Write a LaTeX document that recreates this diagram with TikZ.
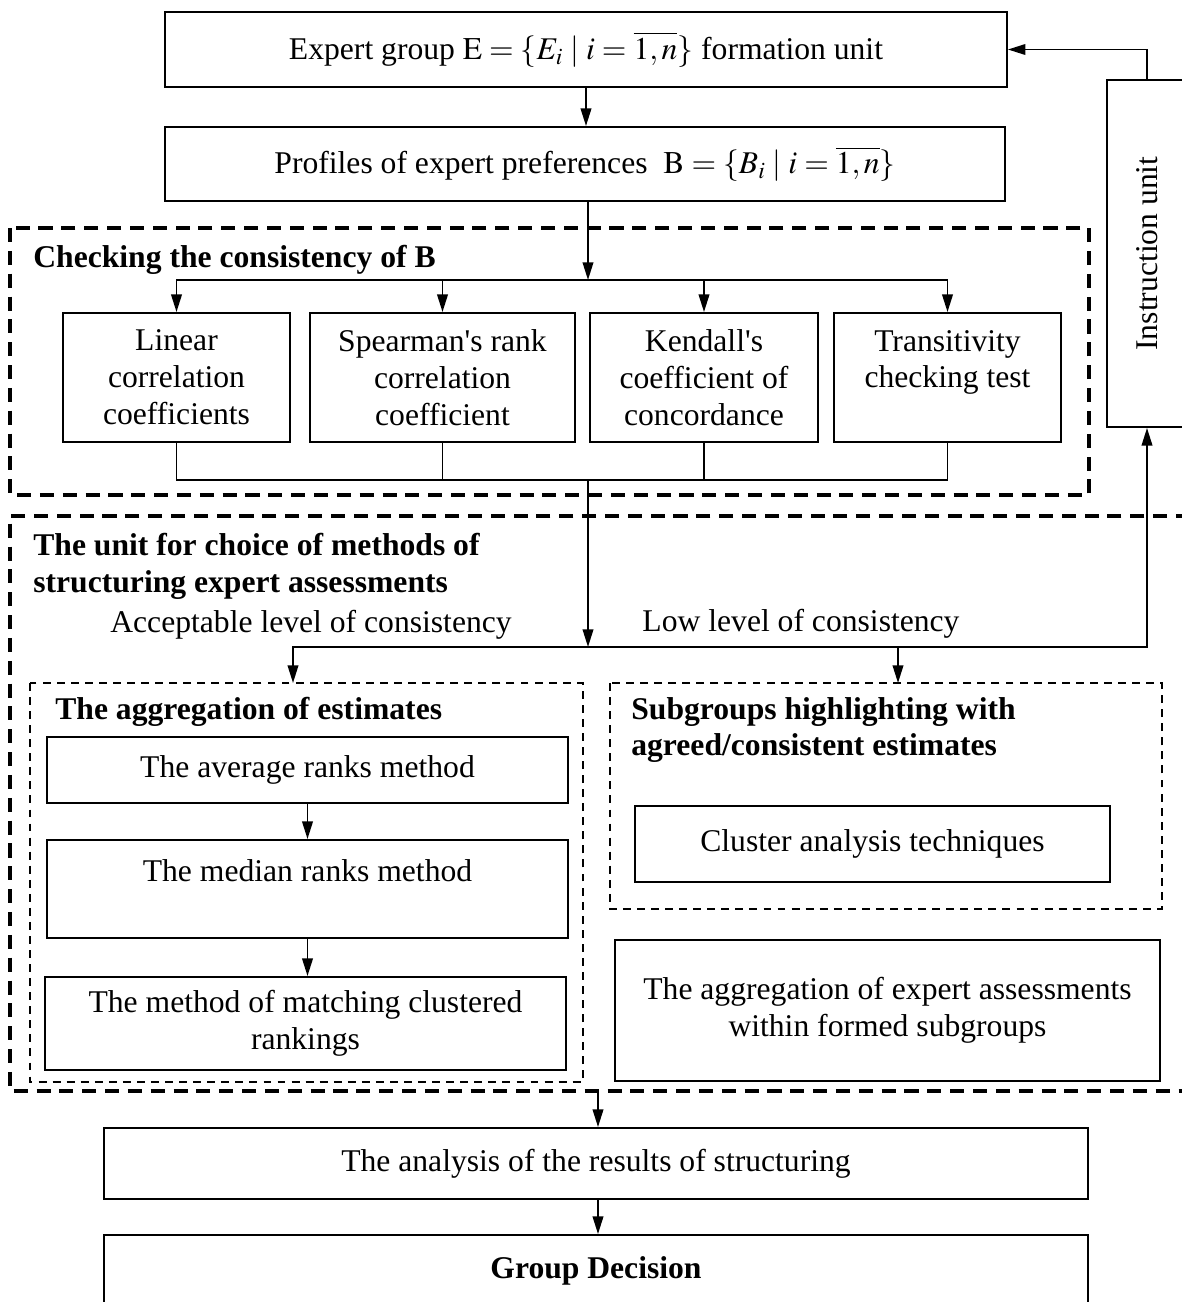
\documentclass[tikz,border=0pt]{standalone}
\usepackage{mathptmx}
\usepackage{fontspec}
\setmainfont{Liberation Serif}
\usepackage{tikz}
\usetikzlibrary{positioning,arrows.meta}

\begin{document}
\begin{tikzpicture}[x=0.02cm,y=-0.02cm]
  \tikzstyle{every node}=[font=\fontsize{18}{21}\selectfont, inner sep=0pt]
  \tikzstyle{box}=[draw, line width=1.1pt, align=center]
  \tikzstyle{bold}=[font=\fontsize{18}{21}\selectfont\bfseries]
  \tikzstyle{bigdash}=[line width=2.2pt, dash pattern=on 8pt off 5pt]
  \tikzstyle{smalldash}=[line width=1.1pt, dash pattern=on 4.5pt off 3.5pt]
  \tikzstyle{link}=[line width=1.1pt, ->, >={Triangle[length=10pt,width=6pt]}]
  \useasboundingbox (0,0) rectangle (1182,1302);
  \clip (0,0) rectangle (1182,1302);

  % dashed frames
  \draw [bigdash] (10,228) rectangle (1089,495);
  \draw [bigdash] (1190,516) -- (10,516) -- (10,1091) -- (1190,1091);
  \draw [smalldash] (30,683) rectangle (583,1082);
  \draw [smalldash] (610,683) rectangle (1162,909);

  % boxes
  \node [box, minimum width=16.84cm, minimum height=1.5cm] (expert) at (586,49.5)
    {Expert group $\mathrm{E}=\{E_i \mid i=\overline{1,n}\}$ formation unit};
  \node [box, minimum width=16.8cm, minimum height=1.48cm] (prof) at (585,164)
    {Profiles of expert preferences\ \ $\mathrm{B}=\{B_i \mid i=\overline{1,n}\}$};
  \node [box, minimum width=1.6cm, minimum height=6.94cm] (instr) at (1147,253.5)
    {\rotatebox{90}{Instruction unit}};

  \node [box, minimum width=4.54cm, minimum height=2.58cm] (lin) at (176.5,377.5)
    {Linear\\correlation\\coefficients};
  \node [box, minimum width=5.3cm, minimum height=2.58cm] (spear) at (442.5,377.5)
    {Spearman\textquotesingle s rank\\correlation\\coefficient};
  \node [box, minimum width=4.56cm, minimum height=2.58cm] (kend) at (704,377.5)
    {Kendall\textquotesingle s\\coefficient of\\concordance};
  \node [box, minimum width=4.54cm, minimum height=2.58cm] (trans) at (947.5,377.5)
    {Transitivity\\checking test\\ \mbox{}};

  \node [box, minimum width=10.42cm, minimum height=1.32cm] (avg) at (307.5,770)
    {The average ranks method};
  \node [box, minimum width=10.42cm, minimum height=1.96cm] (med) at (307.5,889)
    {The median ranks method\\ \mbox{}};
  \node [box, minimum width=10.42cm, minimum height=1.86cm] (match) at (305.5,1023.5)
    {The method of matching clustered\\rankings};
  \node [box, minimum width=9.5cm, minimum height=1.52cm] (clust) at (872.5,844)
    {Cluster analysis techniques};
  \node [box, minimum width=10.9cm, minimum height=2.82cm] (within) at (887.5,1010.5)
    {The aggregation of expert assessments\\within formed subgroups};
  \node [box, minimum width=19.68cm, minimum height=1.42cm] (anal) at (596,1163.5)
    {The analysis of the results of structuring};
  \node [box, minimum width=19.68cm, minimum height=1.44cm] (dec) at (596,1271)
    {\textbf{Group Decision}};

  % titles and labels
  \node [bold, anchor=west] (chktitle) at (33,260) {Checking the consistency of B};
  \node [bold, anchor=west, align=left] (unittitle) at (33,566.5)
    {The unit for choice of methods of\\structuring expert assessments};
  \node (acc) at (311,625) {Acceptable level of consistency};
  \node (low) at (801,624) {Low level of consistency};
  \node [bold, anchor=west] (aggtitle) at (55,712) {The aggregation of estimates};
  \node [bold, anchor=west, align=left] (subtitle) at (631,730)
    {Subgroups highlighting with\\agreed/consistent estimates};

  % connectors
  \coordinate (split) at (588,280);
  \coordinate (join) at (588,480);
  \coordinate (fork) at (588,647);
  \coordinate (aggtop) at (293,683);
  \coordinate (subtop) at (898,683);
  \coordinate (out) at (598,1091);

  \draw [link] (expert.south) -- (expert.south |- prof.north);
  \draw [link] (prof.south -| split) -- (split);
  \draw [link] (split) -| (lin.north);
  \draw [link] (split) -| (spear.north);
  \draw [link] (split) -| (kend.north);
  \draw [link] (split) -| (trans.north);
  \draw [line width=1.1pt] (lin.south) |- (join);
  \draw [line width=1.1pt] (spear.south) |- (join);
  \draw [line width=1.1pt] (kend.south) |- (join);
  \draw [line width=1.1pt] (trans.south) |- (join);
  \draw [link] (join) -- (fork);
  \draw [link] (fork) -| (aggtop);
  \draw [link] (fork) -| (subtop);
  \draw [link] (fork) -| (instr.south);
  \draw [link] (instr.north) |- (expert.east);
  \draw [link] (avg) -- (med);
  \draw [link] (med.south) -- (med.south |- match.north);
  \draw [link] (out) -- (anal.north -| out);
  \draw [link] (anal.south -| out) -- (dec.north -| out);
\end{tikzpicture}
\end{document}
